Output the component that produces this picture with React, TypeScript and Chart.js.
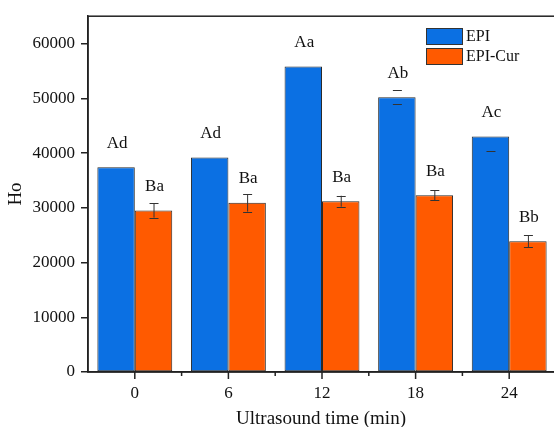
import React, { useEffect, useRef } from "react";
import { Chart, registerables } from "chart.js";

Chart.register(...registerables);

const categories = ["0", "6", "12", "18", "24"];
const epiValues = [37400, 39200, 55800, 50200, 43000];
const epiCurValues = [29500, 30900, 31200, 32300, 23900];
const epiErrUp = [0, 0, 0, 1400, 0];
const epiErrDown = [0, 0, 0, 1300, 2700];
const epiCurErr = [1300, 1600, 1000, 900, 1100];
const epiLetters = ["Ad", "Ad", "Aa", "Ab", "Ac"];
const epiCurLetters = ["Ba", "Ba", "Ba", "Ba", "Bb"];
const yTickValues = [0, 10000, 20000, 30000, 40000, 50000, 60000];
const seriesNames = ["EPI", "EPI-Cur"];
const xTitle = "Ultrasound time (min)";
const yTitle = "Ho";

const BLUE = "#0b70e3";
const ORANGE = "#ff5a00";
const DARK = "#222222";
const SERIF = "'Liberation Serif', 'Times New Roman', serif";

const W = 564;
const H = 427;

const extras = {
  id: "extras",
  afterDatasetsDraw(chart: any) {
    const ctx = chart.ctx;
    const y = chart.scales.y;
    const x = chart.scales.x;
    const area = chart.chartArea;
    ctx.save();
    // error bars
    const errSets = [
      { up: epiErrUp, down: epiErrDown, stem: false },
      { up: epiCurErr, down: epiCurErr, stem: true },
    ];
    const vals = [epiValues, epiCurValues];
    errSets.forEach((es, di) => {
      const meta = chart.getDatasetMeta(di);
      meta.data.forEach((bar: any, i: number) => {
        const v = vals[di][i];
        const bx = bar.x;
        const yUp = y.getPixelForValue(v + es.up[i]);
        const yDn = y.getPixelForValue(v - es.down[i]);
        ctx.strokeStyle = "#333";
        ctx.lineWidth = 1;
        if (es.stem && (es.up[i] > 0 || es.down[i] > 0)) {
          ctx.beginPath();
          ctx.moveTo(bx + 0.5, yUp);
          ctx.lineTo(bx + 0.5, yDn);
          ctx.stroke();
        }
        if (es.up[i] > 0) {
          ctx.beginPath();
          ctx.moveTo(bx - 4, Math.round(yUp) + 0.5);
          ctx.lineTo(bx + 5, Math.round(yUp) + 0.5);
          ctx.stroke();
        }
        if (es.down[i] > 0) {
          ctx.beginPath();
          ctx.moveTo(bx - 4, Math.round(yDn) + 0.5);
          ctx.lineTo(bx + 5, Math.round(yDn) + 0.5);
          ctx.stroke();
        }
      });
    });
    // letters
    ctx.fillStyle = "#111";
    ctx.font = `17px ${SERIF}`;
    ctx.textAlign = "center";
    ctx.textBaseline = "middle";
    const letters = [epiLetters, epiCurLetters];
    [0, 1].forEach((di) => {
      const meta = chart.getDatasetMeta(di);
      meta.data.forEach((bar: any, i: number) => {
        ctx.fillText(letters[di][i], bar.x + 1, bar.y - 24);
      });
    });
    // frame
    ctx.strokeStyle = DARK;
    ctx.lineWidth = 1.5;
    ctx.strokeRect(area.left, area.top, area.right - area.left, area.bottom - area.top);
    // x ticks (major at categories, minor between)
    for (let i = 0; i < categories.length; i++) {
      const px = x.getPixelForValue(i);
      ctx.beginPath();
      ctx.moveTo(px, area.bottom);
      ctx.lineTo(px, area.bottom + 7);
      ctx.stroke();
      const mx = x.getPixelForValue(i + 0.5);
      ctx.beginPath();
      ctx.moveTo(mx, area.bottom);
      ctx.lineTo(mx, area.bottom + 4);
      ctx.stroke();
    }
    // legend
    const lx = 426;
    const swW = 36;
    const swH = 16;
    const rows = [
      { y: 28, c: BLUE },
      { y: 48, c: ORANGE },
    ];
    ctx.font = `16px ${SERIF}`;
    ctx.textAlign = "left";
    ctx.textBaseline = "middle";
    rows.forEach((r, k) => {
      ctx.fillStyle = r.c;
      ctx.fillRect(lx, r.y, swW, swH);
      ctx.strokeStyle = "#333";
      ctx.lineWidth = 1;
      ctx.strokeRect(lx + 0.5, r.y + 0.5, swW, swH);
      ctx.fillStyle = "#111";
      ctx.fillText(seriesNames[k], lx + swW + 4, r.y + swH / 2 + 1);
    });
    // axis titles
    ctx.fillStyle = "#111";
    ctx.font = `19px ${SERIF}`;
    ctx.textAlign = "center";
    ctx.textBaseline = "alphabetic";
    ctx.fillText(xTitle, 321, 424);
    ctx.save();
    ctx.translate(21, 194);
    ctx.rotate(-Math.PI / 2);
    ctx.fillText(yTitle, 0, 0);
    ctx.restore();
    ctx.restore();
  },
};

export default function App() {
  const ref = useRef<HTMLCanvasElement | null>(null);
  useEffect(() => {
    document.body.style.margin = "0";
    const chart = new Chart(ref.current as HTMLCanvasElement, {
      type: "bar",
      data: {
        labels: categories,
        datasets: [
          {
            label: seriesNames[0],
            data: epiValues,
            backgroundColor: BLUE,
            borderColor: "#2a2a2a",
            borderWidth: 1,
            borderSkipped: false,
            categoryPercentage: 0.8,
            barPercentage: 1,
          },
          {
            label: seriesNames[1],
            data: epiCurValues,
            backgroundColor: ORANGE,
            borderColor: "#2a2a2a",
            borderWidth: 1,
            borderSkipped: false,
            categoryPercentage: 0.8,
            barPercentage: 1,
          },
        ],
      },
      options: {
        responsive: false,
        animation: false,
        devicePixelRatio: 1,
        layout: { padding: { top: 15, right: 8, left: 0, bottom: 0 } },
        plugins: { legend: { display: false }, tooltip: { enabled: false } },
        scales: {
          x: {
            grid: { display: false, drawTicks: false },
            border: { display: true, color: DARK, width: 1.5 },
            ticks: { font: { family: SERIF, size: 17 }, color: "#111", padding: 11 },
            afterFit: (s: any) => {
              s.height = 55;
            },
          },
          y: {
            min: 0,
            max: 65000,
            ticks: {
              autoSkip: false,
              font: { family: SERIF, size: 17 },
              color: "#111",
              padding: 6,
              callback: (v: any) => String(v),
            },
            afterBuildTicks: (s: any) => {
              s.ticks = yTickValues.map((v) => ({ value: v }));
            },
            grid: { display: true, drawOnChartArea: false, tickLength: 7, color: DARK, lineWidth: 1.5 },
            border: { display: true, color: DARK, width: 1.5 },
            afterFit: (s: any) => {
              s.width = 88;
            },
          },
        },
      },
      plugins: [extras],
    });
    return () => chart.destroy();
  }, []);
  return (
    <div
      style={{
        position: "fixed",
        left: 0,
        top: 0,
        width: 554,
        height: 427,
        overflow: "hidden",
        background: "#fff",
      }}
    >
      <canvas ref={ref} width={W} height={H} style={{ width: W, height: H, display: "block" }} />
    </div>
  );
}
